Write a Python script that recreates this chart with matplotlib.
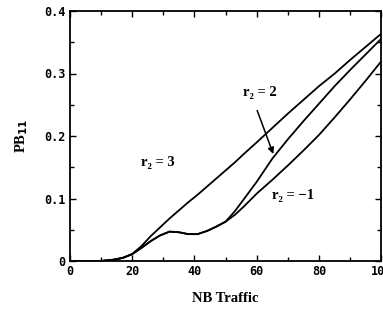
import numpy as np
import matplotlib.pyplot as plt
from matplotlib.ticker import MultipleLocator

# NB traffic values
X = [0, 10, 14, 17, 20, 23, 26, 29, 32, 35, 38, 41, 44, 47, 50,
     53, 56, 60, 65, 70, 75, 80, 85, 90, 95, 100]

PB_R3 = [0, 0, 0.002, 0.005, 0.011, 0.024, 0.040, 0.054, 0.068, 0.081, 0.094, 0.106, 0.119, 0.132, 0.145,
         0.158, 0.172, 0.190, 0.213, 0.236, 0.258, 0.280, 0.300, 0.322, 0.343, 0.364]
PB_R2 = [0, 0, 0.002, 0.005, 0.011, 0.021, 0.032, 0.041, 0.047, 0.046, 0.043, 0.043, 0.048, 0.055, 0.063,
         0.080, 0.100, 0.127, 0.164, 0.195, 0.224, 0.252, 0.280, 0.306, 0.331, 0.356]
PB_RM1 = [0, 0, 0.002, 0.005, 0.011, 0.021, 0.032, 0.041, 0.047, 0.046, 0.043, 0.043, 0.048, 0.055, 0.063,
          0.074, 0.088, 0.108, 0.130, 0.153, 0.177, 0.202, 0.230, 0.259, 0.289, 0.320]

XTICKS = [0, 20, 40, 60, 80, 100]
YTICKS = [0, 0.1, 0.2, 0.3, 0.4]
YTICK_LABELS = ['0', '0.1', '0.2', '0.3', '0.4']

serif = ['Liberation Serif', 'DejaVu Serif']
mono = {'family': 'DejaVu Sans Mono', 'weight': 'bold', 'size': 8.5}

fig = plt.figure(figsize=(3.83, 3.10), dpi=100)
ax = fig.add_axes([69.8 / 383, 1 - 261 / 310, (381.5 - 69.8) / 383, 250 / 310])

for y in (PB_R3, PB_R2, PB_RM1):
    ax.plot(X, y, color='black', lw=1.3)

ax.set_xlim(0, 100)
ax.set_ylim(0, 0.4)
ax.set_xticks(XTICKS)
ax.set_xticklabels([str(t) for t in XTICKS], fontdict=mono)
ax.set_yticks(YTICKS)
ax.set_yticklabels(YTICK_LABELS, fontdict=mono)
ax.xaxis.set_minor_locator(MultipleLocator(10))
ax.yaxis.set_minor_locator(MultipleLocator(0.05))
ax.tick_params(which='both', direction='in', top=True, right=True, width=1.0)
ax.tick_params(which='major', length=4, pad=3)
ax.tick_params(which='minor', length=3)
for s in ax.spines.values():
    s.set_linewidth(1.3)

ax.set_xlabel('NB Traffic', family=serif, weight='bold', fontsize=10.5, labelpad=10)
ax.set_ylabel('PB$_{\\mathbf{11}}$', family=serif, weight='bold', fontsize=10.5, labelpad=10)

ax.text(23, 0.158, 'r₂ = 3', family=serif, weight='bold', fontsize=10.5, va='center')
ax.text(55.5, 0.27, 'r₂ = 2', family=serif, weight='bold', fontsize=10.5, va='center')
ax.text(65, 0.104, 'r₂ = −1', family=serif, weight='bold', fontsize=10.5, va='center')
ax.annotate('', xy=(65.6, 0.167), xytext=(59.8, 0.245),
            arrowprops=dict(arrowstyle='-|>', color='black', lw=1.1, mutation_scale=9))

fig.savefig('out.png', dpi=100)
